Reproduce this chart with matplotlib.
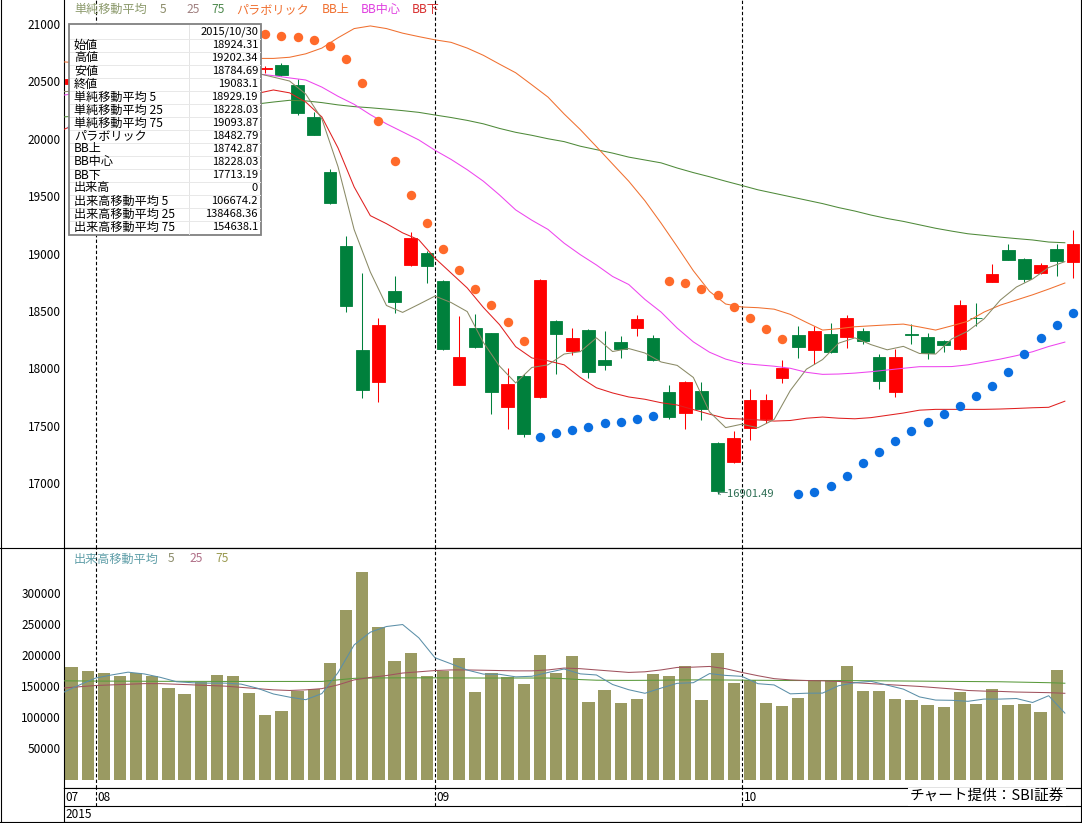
import matplotlib

matplotlib.use("Agg")
import matplotlib.pyplot as plt
from matplotlib.lines import Line2D
from matplotlib.patches import Rectangle

plt.rcParams["font.family"] = ["Noto Sans CJK JP", "DejaVu Sans"]

W, H = 1082, 823

# ---------- 日足 2015/07/30 - 2015/10/30 ----------
opens = [20480, 20560, 20570, 20480, 20560, 20650, 20690, 20760, 20830, 20600, 20460, 20580,
         20610, 20643, 20468, 20190, 19710, 19065, 18159, 17883, 18673, 18900, 19007,
         18760, 17854, 18353, 18304, 17665, 17933, 17752, 18412, 18150, 18333, 18072, 18226, 18353, 18263,
         17790, 17613, 17802, 17351, 17186,
         17477, 17558, 17918, 18290, 18159, 18298, 18275, 18324, 18101, 17796, 18295, 18270, 18237,
         18165, 18440, 18754, 19030, 18949, 18827, 19037, 18924.31]
highs = [20560, 20620, 20600, 20560, 20650, 20700, 20760, 20840, 20946, 20620, 20610, 20650,
         20630, 20663, 20521, 20236, 19736, 19152, 18833, 18436, 18807, 19185, 19020,
         18769, 18455, 18470, 18310, 18005, 17947, 18780, 18420, 18353, 18340, 18327, 18281, 18464, 18290,
         17854, 17890, 17878, 17360, 17456,
         17819, 17776, 18072, 18368, 18368, 18397, 18460, 18348, 18121, 18165, 18383, 18305, 18246,
         18595, 18566, 18909, 19083, 18958, 18920, 19080, 19202.34]
lows = [20420, 20500, 20500, 20440, 20540, 20600, 20660, 20730, 20700, 20350, 20390, 20500,
        20570, 20550, 20210, 20030, 19430, 18493, 17743, 17709, 18484, 18890, 18746,
        18160, 17850, 18175, 17601, 17471, 17403, 17740, 17950, 18115, 17918, 17985, 18092, 18284, 18060,
        17560, 17471, 17549, 16901.49, 17172,
        17375, 17526, 17869, 18092, 18037, 18130, 18180, 18211, 17819, 17752, 18211, 18078, 18144,
        18160, 18368, 18750, 18940, 18754, 18821, 18804, 18784.69]
closes = [20522.83, 20585.24, 20548.11, 20520.36, 20614.06, 20664.44, 20724.56, 20808.69, 20720.75,
          20392.77, 20595.55, 20519.45, 20620.26, 20554.47, 20222.63, 20033.52, 19435.83, 18540.68,
          17806.70, 18376.83, 18574.44, 19136.32, 18890.48, 18165.69, 18095.40, 18182.39, 17792.16,
          17860.47, 17427.08, 18770.51, 18299.62, 18264.22, 17965.70, 18026.48, 18171.60, 18432.27,
          18070.21, 17571.83, 17880.51, 17645.11, 16930.84, 17388.15, 17722.42, 17725.13, 18005.49,
          18186.10, 18322.98, 18141.17, 18438.67, 18234.74, 17891.00, 18096.90, 18291.80, 18131.23,
          18207.15, 18554.28, 18435.87, 18825.30, 18947.12, 18777.04, 18903.02, 18935.71, 19083.10]

sma5 = [20410, 20418, 20457, 20496, 20558, 20586, 20614, 20666, 20707, 20662, 20649, 20607,
        20570, 20537, 20503, 20390, 20173, 19757, 19208, 18839, 18547, 18487, 18557, 18629,
        18573, 18494, 18225, 18019, 17872, 18007, 18030, 18124, 18145, 18265, 18146, 18172,
        18133, 18055, 18025, 17920, 17620, 17483, 17513, 17482, 17554, 17806, 17992, 18076,
        18219, 18265, 18206, 18161, 18191, 18129, 18124, 18256, 18324, 18431, 18594, 18708,
        18778, 18878, 18929.19]
sma75 = [20190, 20200, 20210, 20220, 20230, 20240, 20250, 20260, 20270, 20280, 20290, 20300,
         20303, 20320, 20335, 20330, 20315, 20295, 20280, 20270, 20258, 20245, 20230, 20207,
         20185, 20160, 20130, 20090, 20056, 20030, 20000, 19975, 19935, 19905, 19875, 19840,
         19815, 19790, 19745, 19705, 19669, 19630, 19593, 19555, 19525, 19495, 19465, 19435,
         19400, 19370, 19335, 19305, 19280, 19250, 19220, 19195, 19172, 19158, 19143, 19130,
         19118, 19100, 19093.87]
bb_up = [20670, 20660, 20640, 20620, 20630, 20660, 20690, 20730, 20750, 20740, 20720, 20705,
         20700, 20700, 20710, 20740, 20790, 20880, 20960, 20983, 20960, 20920, 20890, 20862,
         20840, 20790, 20727, 20650, 20575, 20470, 20363, 20216, 20080, 19931, 19780, 19630,
         19460, 19265, 19060, 18850, 18670, 18560, 18534, 18528, 18515, 18470, 18400, 18333,
         18345, 18362, 18370, 18378, 18385, 18360, 18333, 18370, 18410, 18490, 18550, 18595,
         18640, 18690, 18742.87]
bb_mid = [20380, 20400, 20420, 20440, 20460, 20480, 20500, 20520, 20540, 20550, 20560, 20565,
          20565, 20550, 20530, 20512, 20450, 20370, 20300, 20210, 20130, 20060, 19990, 19900,
          19820, 19730, 19630, 19510, 19380, 19290, 19210, 19090, 18990, 18900, 18800, 18730,
          18600, 18490, 18350, 18230, 18140, 18080, 18043, 18030, 18018, 18000, 17965, 17947,
          17950, 17958, 17970, 17985, 18000, 18014, 18014, 18015, 18030, 18055, 18080, 18110,
          18144, 18190, 18228.03]
bb_low = [20080, 20140, 20200, 20260, 20290, 20300, 20310, 20310, 20330, 20360, 20400, 20390,
          20395, 20425, 20400, 20320, 20190, 19920, 19580, 19330, 19260, 19180, 19120, 18960,
          18830, 18700, 18530, 18380, 18188, 18090, 18065, 18030, 17920, 17830, 17785, 17750,
          17730, 17700, 17680, 17640, 17600, 17564, 17558, 17550, 17540, 17545, 17565, 17575,
          17565, 17560, 17570, 17590, 17610, 17635, 17642, 17642, 17642, 17642, 17645, 17650,
          17656, 17660, 17713.19]
sar = [20100, 20150, 20200, 20250, 20300, 20350, 20400, 20450, 20500, 20946, 20935, 20922,
       20910, 20898, 20889, 20861, 20811, 20695, 20483, 20152, 19806, 19512, 19263, 19039,
       18856, 18690, 18551, 18404, 18240, 17398, 17438, 17462, 17488, 17520, 17534, 17558,
       17586, 18763, 18746, 18691, 18638, 18531, 18438, 18344, 18257, 16901, 16925, 16974,
       17061, 17172, 17270, 17366, 17453, 17532, 17601, 17674, 17758, 17845, 17967, 18124,
       18266, 18374, 18482.79]
sar_above = [0] * 9 + [1] * 20 + [0] * 8 + [1] * 8 + [0] * 18

volume = [180000, 173600, 171500, 165600, 171500, 165600, 146300, 136700, 157000, 168300,
          165600, 138300, 104200, 110600, 142600, 145300, 187500, 272400, 333300, 244700,
          190700, 203500, 165600, 173600, 195500, 141000, 171000, 164000, 152800, 200300,
          171500, 198700, 125000, 144200, 123400, 129800, 169900, 166700, 182700, 128200,
          203000, 155500, 159200, 123400, 118600, 131400, 160300, 160300, 182700, 142600,
          142600, 129800, 128200, 120200, 117000, 141000, 121800, 145800, 120200, 121800,
          109000, 176300, 0]
vma5 = [140000, 152000, 163000, 168000, 172400, 169600, 164100, 157100, 155400, 154800,
        154800, 153200, 146700, 137400, 132300, 128200, 138000, 171700, 216200, 236600,
        245700, 248900, 227600, 195600, 185800, 175800, 169300, 169000, 164900, 165800,
        171900, 177500, 169700, 167900, 152600, 144200, 138500, 146800, 154500, 155500,
        170100, 167200, 165700, 153900, 151900, 137600, 138600, 138800, 150700, 155500,
        157700, 151600, 145200, 132700, 127600, 127200, 125600, 129200, 129200, 130100,
        123700, 134600, 106674.2]
vma25 = [147000, 149000, 151000, 152000, 153000, 154000, 154000, 153000, 152000, 151000,
         150000, 148000, 146000, 144000, 143000, 144000, 146000, 152000, 160000, 164000,
         167000, 171000, 173000, 175000, 176000, 176000, 175500, 175000, 174500, 174500,
         176000, 179000, 178000, 176000, 174000, 172000, 173000, 176000, 180000, 180500,
         181600, 178000, 172000, 166700, 162000, 160000, 159000, 158500, 157500, 155500,
         154000, 152500, 151000, 149500, 147500, 145500, 143000, 142000, 141500, 140500,
         140000, 139500, 138468.36]
vma75 = [158500, 158300, 158100, 158000, 157900, 157800, 157700, 157700, 157600, 157600,
         157500, 157500, 157500, 157500, 157500, 157500, 157500, 160000, 162500, 163000,
         163200, 163300, 163300, 163300, 163200, 163100, 163000, 163000, 163000, 163000,
         163000, 162000, 160500, 159500, 159300, 159200, 159300, 159500, 159800, 160000,
         160000, 159800, 159600, 159400, 159200, 159000, 159000, 159000, 159000, 158800,
         158600, 158400, 158200, 158000, 157800, 157600, 157400, 157200, 157000, 156500,
         156000, 155500, 154638.1]

month_first = [2, 23, 42]          # 08/03, 09/01, 10/01
month_labels = ["08", "09", "10"]
price_ticks = [17000, 17500, 18000, 18500, 19000, 19500, 20000, 20500, 21000]
vol_ticks = [50000, 100000, 150000, 200000, 250000, 300000]

info_date = "2015/10/30"
info_rows = [("始値", "18924.31"), ("高値", "19202.34"), ("安値", "18784.69"), ("終値", "19083.1"),
             ("単純移動平均 5", "18929.19"), ("単純移動平均 25", "18228.03"),
             ("単純移動平均 75", "19093.87"), ("パラボリック", "18482.79"),
             ("BB上", "18742.87"), ("BB中心", "18228.03"), ("BB下", "17713.19"),
             ("出来高", "0"), ("出来高移動平均 5", "106674.2"),
             ("出来高移動平均 25", "138468.36"), ("出来高移動平均 75", "154638.1")]

UP, DOWN = "#ff0000", "#00803c"
LW = 0.75


def fx(x):
    return x / W


def fy(y):
    return 1 - y / H


fig = plt.figure(figsize=(W / 100, H / 100), dpi=100)
L, R = 64.4, 1081
ax = fig.add_axes([fx(L), fy(548), fx(R) - fx(L), 548 / H])
axv = fig.add_axes([fx(L), fy(787.5), fx(R) - fx(L), (787.5 - 548) / H])
axd = fig.add_axes([fx(L), fy(822), fx(R) - fx(L), (822 - 787.5) / H])

days = list(range(len(closes)))
xl = [i - 0.5 for i in days]   # 指標線は半本左にずれて描かれる
XLIM = (-0.44, 62.5)

# ---------- 価格 ----------
for i in days:
    col = UP if closes[i] >= opens[i] else DOWN
    lo, hi = min(opens[i], closes[i]), max(opens[i], closes[i])
    ax.vlines(i, lows[i], highs[i], color=col, lw=LW, zorder=2)
    ax.bar(i, hi - lo, bottom=lo, width=0.78, color=col, edgecolor=col, lw=0.6, zorder=2)

ax.plot(xl, sma75, color="#4f8a3a", lw=LW, zorder=3)
ax.plot(xl, bb_up, color="#f07030", lw=LW, zorder=3)
ax.plot(xl, bb_mid, color="#ee44ee", lw=LW, zorder=3)
ax.plot(xl, bb_low, color="#e02020", lw=LW, zorder=3)
ax.plot(xl, sma5, color="#8a8a66", lw=LW, zorder=3)

sx_a = [i for i in days if sar_above[i]]
sx_b = [i for i in days if not sar_above[i]]
ax.scatter(sx_a, [sar[i] for i in sx_a], s=46, color="#ff6a2a", lw=0, zorder=4)
ax.scatter(sx_b, [sar[i] for i in sx_b], s=46, color="#0a6ee0", lw=0, zorder=4)

ax.text(39.95, 16901.49, "←16901.49", color="#2f6f55", fontsize=8, va="center", ha="left", zorder=5)

ax.set_xlim(*XLIM)
ax.set_ylim(16434, 21209)
ax.set_xticks([])
ax.set_yticks(price_ticks)
ax.set_yticklabels([str(t) for t in price_ticks])
ax.tick_params(axis="y", length=0, pad=2.5, labelsize=8.5)
ax.spines["top"].set_visible(False)

# ---------- 出来高 ----------
axv.bar(days, volume, width=0.76, color="#9a9a62", zorder=2)
axv.plot(xl, vma75, color="#5a9a3c", lw=LW, zorder=3)
axv.plot(xl, vma25, color="#a0525e", lw=LW, zorder=3)
axv.plot(xl, vma5, color="#5b8fa8", lw=LW, zorder=3)
axv.set_xlim(*XLIM)
axv.set_ylim(-12800, 371800)
axv.set_xticks([])
axv.set_yticks(vol_ticks)
axv.set_yticklabels([str(t) for t in vol_ticks])
axv.tick_params(axis="y", length=0, pad=2.5, labelsize=8.5)

# ---------- 日付 ----------
axd.set_xlim(*XLIM)
axd.set_ylim(0, 1)
axd.set_xticks([])
axd.set_yticks([])
axd.axhline(0.464, color="black", lw=0.8)
axd.text(XLIM[0] + 0.05, 0.72, "07", fontsize=8.5, va="center", ha="left")
axd.text(XLIM[0] + 0.05, 0.23, "2015", fontsize=8.5, va="center", ha="left")
for m, lab in zip(month_first, month_labels):
    for a in (ax, axv):
        a.axvline(m - 0.5, color="black", lw=0.8, ls=(0, (3, 2)), zorder=1)
    axd.vlines(m - 0.5, 0.464, 1, color="black", lw=0.8, linestyles=[(0, (3, 2))])
    axd.text(m - 0.5 + 0.12, 0.72, lab, fontsize=8.5, va="center", ha="left")

for a in (ax, axv, axd):
    for s in a.spines.values():
        s.set_linewidth(0.8)

fig.text(fx(1064), fy(797), "チャート提供：SBI証券", fontsize=10.5, ha="right", va="center",
         bbox=dict(facecolor="white", edgecolor="none", pad=1.5))

# 外枠
fig.add_artist(Line2D([fx(0.5), fx(0.5)], [0, 1], color="black", lw=0.8))
fig.add_artist(Line2D([0, 1], [fy(548), fy(548)], color="black", lw=0.8))
fig.add_artist(Line2D([0, 1], [fy(822), fy(822)], color="black", lw=0.8))

# ---------- 凡例 ----------
legend_top = [(74, "単純移動平均", "#8c9a6c"), (160, "5", "#8c8c6a"), (186, "25", "#a08080"),
              (211, "75", "#4f8a4f"), (236, "パラボリック", "#f07030"), (322, "BB上", "#f07030"),
              (361, "BB中心", "#e040e0"), (412, "BB下", "#d83030")]
for x, t, c in legend_top:
    fig.text(fx(x), fy(9.5), t, color=c, fontsize=8.7, va="center", ha="left")

legend_vol = [(74, "出来高移動平均", "#5f9ea8"), (168, "5", "#8c8c6a"), (189, "25", "#b07088"),
              (215, "75", "#9a9a50")]
for x, t, c in legend_vol:
    fig.text(fx(x), fy(559), t, color=c, fontsize=8.7, va="center", ha="left")

# ---------- 情報ボックス ----------
bx0, by0, bx1, by1 = 69, 24, 261, 235
fig.add_artist(Rectangle((fx(bx0), fy(by1)), fx(bx1) - fx(bx0), (by1 - by0) / H,
                         facecolor="white", edgecolor="#808080", lw=1.3, zorder=6))
fig.add_artist(Line2D([fx(189), fx(189)], [fy(by0 + 1), fy(by1 - 1)], color="#e4e4e4", lw=0.7, zorder=7))
for k in range(len(info_rows)):
    yy = 38.5 + 13 * k
    fig.add_artist(Line2D([fx(bx0 + 1), fx(bx1 - 1)], [fy(yy), fy(yy)], color="#e8e8e8", lw=0.7, zorder=7))
fig.text(fx(258), fy(32), info_date, fontsize=8, ha="right", va="center", zorder=8)
for k, (lab, val) in enumerate(info_rows):
    yy = 45 + 13 * k
    fig.text(fx(74), fy(yy), lab, fontsize=8.7, ha="left", va="center", zorder=8)
    fig.text(fx(258), fy(yy), val, fontsize=8, ha="right", va="center", zorder=8)

fig.savefig("out.png", dpi=100)
